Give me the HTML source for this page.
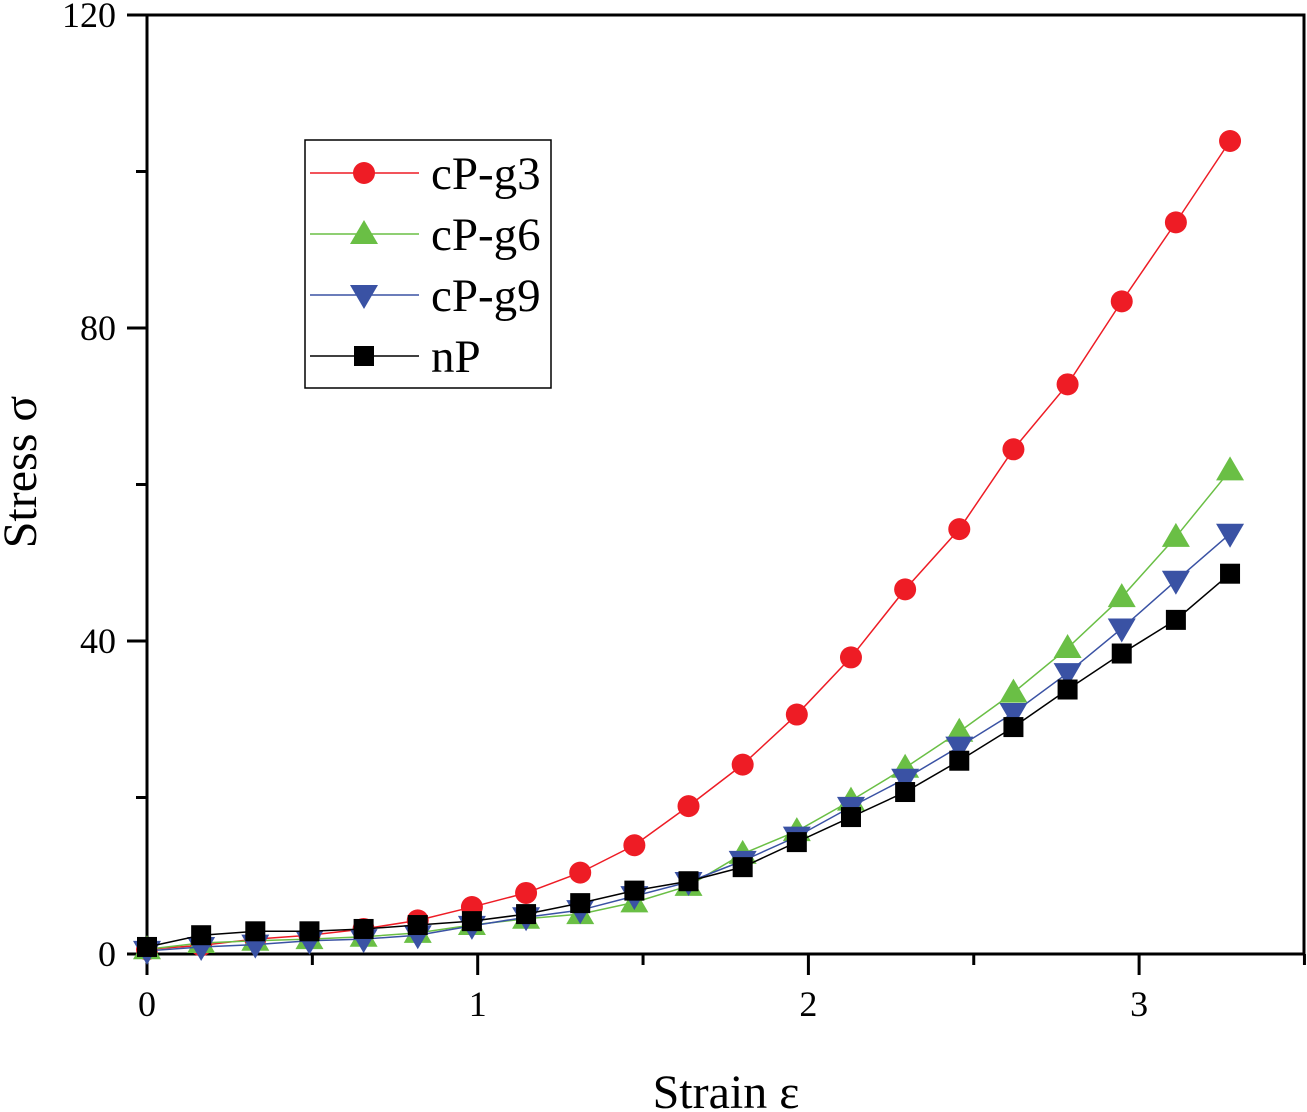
<!DOCTYPE html>
<html><head><meta charset="utf-8"><style>
body{margin:0;background:#fff}
svg{display:block;font-family:"Liberation Serif",serif}
</style></head><body>
<svg id="chart" width="1307" height="1112" viewBox="0 0 1307 1112">
<g id="axes"></g>
<g id="series"></g>
<g>
<rect x="305" y="140" width="246" height="248" fill="#fff" stroke="#000" stroke-width="1.5"/>
<g id="legend-items"></g>
</g>
<text x="726" y="1108" font-size="48" text-anchor="middle">Strain ε</text>
<text transform="translate(36,472) rotate(-90)" font-size="48" text-anchor="middle">Stress σ</text>
</svg>
<script>
const xValues = Array.from({length:21},(_, i)=>i*0.16375);
const seriesNames = ["cP-g3","cP-g6","cP-g9","nP"];
const cpg3 = [0.6,1.1,1.9,2.4,3.2,4.3,6.0,7.8,10.4,13.9,18.9,24.2,30.6,37.9,46.6,54.3,64.5,72.8,83.4,93.5,103.9];
const cpg6 = [0.6,1.4,1.7,1.9,2.2,2.7,3.7,4.5,5.1,6.6,8.7,12.8,15.7,19.6,23.8,28.4,33.4,39.1,45.6,53.3,61.8];
const cpg9 = [0.4,0.9,1.2,1.7,1.9,2.4,3.6,4.7,5.6,7.4,9.2,11.9,15.0,18.8,22.4,26.5,30.8,35.9,41.6,47.7,53.7];
const np   = [0.9,2.4,2.9,2.9,3.2,3.7,4.2,5.1,6.5,8.1,9.3,11.1,14.3,17.5,20.7,24.7,29.0,33.8,38.4,42.7,48.6];
const xTicks = [0,1,2,3];
const yTicks = [0,40,80,120];

const X0=147, X1=1304, Y0=954, Y1=15;
const xs = v => X0 + v*330.7;
const ys = v => Y0 - v*(Y0-Y1)/120;
const NS="http://www.w3.org/2000/svg";
function mk(tag, attrs, parent){const e=document.createElementNS(NS,tag);for(const k in attrs)e.setAttribute(k,attrs[k]);parent.appendChild(e);return e;}
const ax=document.getElementById('axes');
const frame=mk('path',{d:`M${X0},${Y1}H${X1}V${Y0}H${X0}Z`,fill:'none',stroke:'#000','stroke-width':3},ax);


for(let v=0;v<=3.5;v+=0.5){
  const major=Number.isInteger(v);
  const t=mk('line',{x1:xs(v),x2:xs(v),y1:Y0,y2:Y0+(major?21:11),stroke:'#000','stroke-width':3},ax);
  
  
}
xTicks.forEach(v=>{
  const t=mk('text',{x:xs(v),y:1016,'font-size':36,'text-anchor':'middle'},ax);t.textContent=v;
  
  
});
for(let v=0;v<=120;v+=20){
  const major=v%40===0;
  const t=mk('line',{x1:X0-(major?20:11),x2:X0,y1:ys(v),y2:ys(v),stroke:'#000','stroke-width':3},ax);
  
  
}
yTicks.forEach(v=>{
  const t=mk('text',{x:116,y:ys(v)+12,'font-size':36,'text-anchor':'end'},ax);t.textContent=v;
  
  
});
const colors=["#ee1c25","#6abf45","#3a52a4","#000"];
const shapes=["circle","up","down","square"];
function marker(shape,cx,cy,c,p){
  let e;
  if(shape==='circle') e=mk('circle',{cx,cy,r:11,fill:c},p);
  else if(shape==='square') e=mk('rect',{x:cx-10,y:cy-10,width:20,height:20,fill:c},p);
  else if(shape==='up') e=mk('polygon',{points:`${cx},${cy-14} ${cx-14},${cy+10} ${cx+14},${cy+10}`,fill:c},p);
  else e=mk('polygon',{points:`${cx},${cy+14} ${cx-14},${cy-10} ${cx+14},${cy-10}`,fill:c},p);
  return e;
}
const sg=document.getElementById('series');
[cpg3,cpg6,cpg9,np].forEach((data,si)=>{
  const g=mk('g',{},sg);
  
  
  const l=mk('polyline',{points:data.map((v,i)=>xs(xValues[i])+','+ys(v)).join(' '),fill:'none',stroke:colors[si],'stroke-width':1.5},g);
  
  
  data.forEach((v,i)=>{
    const m=marker(shapes[si],xs(xValues[i]),ys(v),colors[si],g);
    
    
  });
});
const lg=document.getElementById('legend-items');
seriesNames.forEach((n,i)=>{
  const y=173+i*61;
  const g=mk('g',{},lg);
  
  
  mk('line',{x1:310,x2:419,y1:y,y2:y,stroke:colors[i],'stroke-width':1.5},g);
  marker(shapes[i],364,y,colors[i],g);
  const t=mk('text',{x:431,y:y+16,'font-size':47},g);t.textContent=n;
});
</script>
</body></html>
